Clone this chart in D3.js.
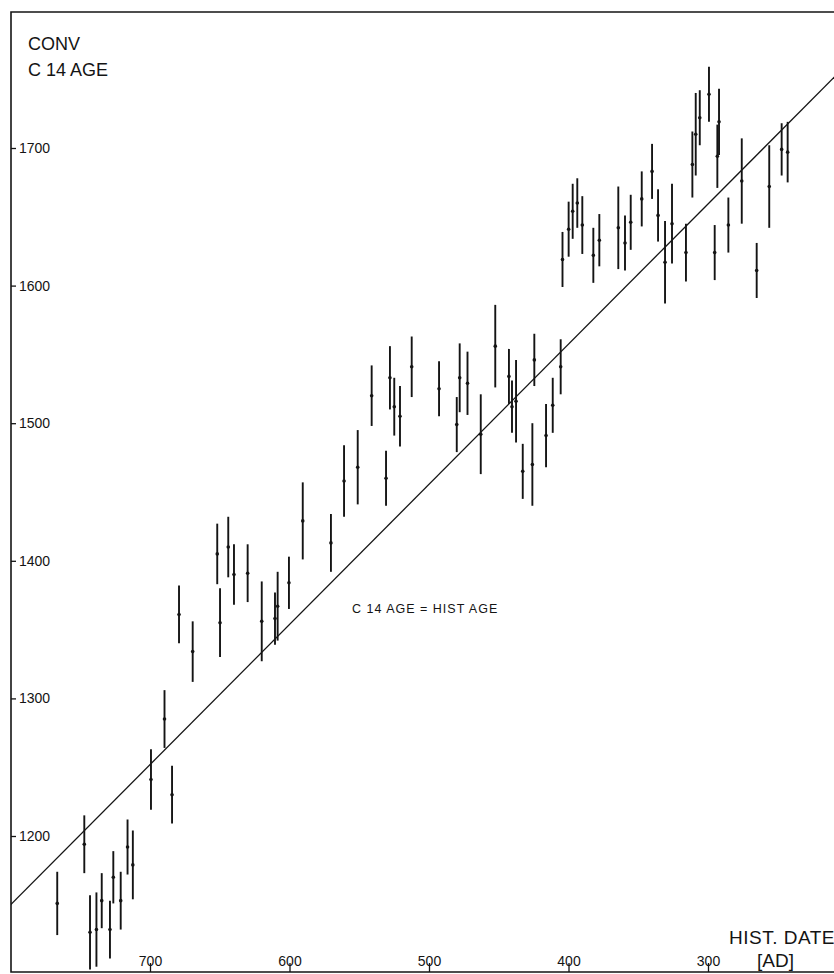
<!DOCTYPE html>
<html>
<head>
<meta charset="utf-8">
<script src="https://cdn.jsdelivr.net/npm/d3@7"></script>
<style>
  html, body { margin: 0; padding: 0; background: #fff; }
  svg { display: block; font-family: "Liberation Sans", Arial, sans-serif; }
</style>
</head>
<body>
<svg id="chart" width="834" height="974"></svg>
<script>
// Historical date (AD) of each sample
const histDate = [766.5, 747.1, 743.0, 738.4, 734.6, 728.7, 726.3, 721.0, 716.1, 712.3,
  699.3, 689.6, 684.2, 679.2, 669.4, 651.8, 649.8, 643.9, 639.8, 630.0,
  619.9, 610.4, 608.5, 600.4, 590.5, 570.3, 560.9, 551.1, 541.1, 530.8,
  528.0, 524.9, 520.8, 512.4, 492.8, 480.1, 478.0, 472.4, 462.9, 452.5,
  442.7, 440.5, 437.6, 432.8, 425.9, 424.5, 416.1, 411.3, 405.6, 404.3,
  399.9, 397.0, 393.7, 390.1, 382.2, 377.9, 364.3, 359.5, 355.4, 347.5,
  340.1, 335.8, 330.8, 325.8, 315.8, 311.2, 308.8, 305.9, 299.3, 295.2,
  293.3, 292.1, 285.4, 275.8, 265.1, 256.1, 247.2, 242.9];
// Conventional C14 age (BP) of each sample
const c14Age = [1151, 1194, 1130, 1132, 1153, 1132, 1170, 1153, 1192, 1179,
  1241, 1285, 1230, 1361, 1334, 1405, 1355, 1410, 1390, 1391,
  1356, 1358, 1367, 1384, 1429, 1413, 1458, 1468, 1520, 1460,
  1533, 1512, 1505, 1541, 1525, 1499, 1533, 1529, 1492, 1556,
  1534, 1512, 1516, 1465, 1470, 1546, 1491, 1513, 1541, 1619,
  1641, 1654, 1660, 1644, 1622, 1633, 1642, 1631, 1646, 1663,
  1683, 1651, 1617, 1645, 1624, 1688, 1710, 1722, 1739, 1624,
  1694, 1719, 1644, 1676, 1611, 1672, 1699, 1697];
// One-sigma error of each C14 age (years)
const c14Err = [23, 21, 27, 27, 20, 21, 19, 21, 20, 25,
  22, 21, 21, 21, 22, 22, 25, 22, 22, 21,
  29, 19, 25, 19, 28, 21, 26, 27, 22, 20,
  23, 21, 22, 22, 20, 20, 25, 23, 29, 30,
  20, 19, 30, 20, 30, 19, 23, 20, 20, 20,
  20, 20, 18, 21, 20, 19, 30, 20, 20, 20,
  20, 19, 30, 29, 21, 24, 30, 20, 20, 20,
  23, 24, 20, 31, 20, 30, 19, 22];
// Reference line "C 14 AGE = HIST AGE" (end points)
const refLineDate = [800, 209];
const refLineAge = [1150, 1752];
// Tick values
const xTicks = [700, 600, 500, 400, 300];
const yTicks = [1200, 1300, 1400, 1500, 1600, 1700];

(function () {
const svg = d3.select("#chart");
const x = d3.scaleLinear().domain([800, 200]).range([10.5, 847.5]);
const y = d3.scaleLinear().domain([1100, 1800]).range([973.6, 10.4]);

const pL = 11, pT = 12, pB = 972, pR = 840;
const ink = "#141414";

svg.append("defs").append("clipPath").attr("id", "plot")
  .append("rect").attr("x", pL).attr("y", pT).attr("width", pR - pL).attr("height", pB - pT);

// Frame
svg.append("path")
  .attr("d", `M${pR},${pT}H${pL}V${pB}H${pR}`)
  .attr("fill", "none").attr("stroke", ink).attr("stroke-width", 1.6);

// Y axis (ticks inside, labels inside)
const yAxis = svg.append("g").attr("transform", `translate(${pL},0)`)
  .call(d3.axisRight(y).tickValues(yTicks).tickSize(5).tickPadding(3).tickFormat(d3.format("d")));
yAxis.select(".domain").remove();
yAxis.selectAll("line").attr("stroke", ink).attr("stroke-width", 1.3);
yAxis.selectAll("text").attr("font-size", 14).attr("fill", ink)
  .attr("font-family", "Liberation Sans, Arial, sans-serif");

// X axis (ticks pointing up, labels above axis)
const xAxis = svg.append("g").attr("transform", `translate(0,${pB})`)
  .call(d3.axisTop(x).tickValues(xTicks).tickSize(9).tickPadding(-3).tickFormat(d3.format("d")));
xAxis.select(".domain").remove();
xAxis.selectAll("line").attr("stroke", ink).attr("stroke-width", 1.3);
xAxis.selectAll("text").attr("font-size", 14).attr("fill", ink)
  .attr("font-family", "Liberation Sans, Arial, sans-serif")
  .attr("y", -6);

// Reference line
const g = svg.append("g").attr("clip-path", "url(#plot)");
g.append("line")
  .attr("x1", x(refLineDate[0])).attr("y1", y(refLineAge[0]))
  .attr("x2", x(refLineDate[1])).attr("y2", y(refLineAge[1]))
  .attr("stroke", ink).attr("stroke-width", 1.3);

// Error bars
const data = histDate.map((d, i) => ({ d, a: c14Age[i], e: c14Err[i] }));
g.selectAll("line.bar").data(data).join("line").attr("class", "bar")
  .attr("x1", p => x(p.d)).attr("x2", p => x(p.d))
  .attr("y1", p => y(p.a + p.e)).attr("y2", p => y(p.a - p.e))
  .attr("stroke", ink).attr("stroke-width", 1.9);
g.selectAll("circle.pt").data(data).join("circle").attr("class", "pt")
  .attr("cx", p => x(p.d)).attr("cy", p => y(p.a)).attr("r", 1.8)
  .attr("fill", ink);

// Labels
svg.append("text").attr("x", 28).attr("y", 50).attr("font-size", 18).attr("fill", ink).text("CONV");
svg.append("text").attr("x", 28).attr("y", 76).attr("font-size", 18).attr("fill", ink).text("C 14 AGE");
svg.append("text").attr("x", 352).attr("y", 613).attr("font-size", 12.5)
  .attr("letter-spacing", 1).attr("fill", ink).text("C 14 AGE = HIST AGE");
svg.append("text").attr("x", 835).attr("y", 944).attr("font-size", 19)
  .attr("text-anchor", "end").attr("letter-spacing", 0.5).attr("fill", ink).text("HIST. DATE");
svg.append("text").attr("x", 757).attr("y", 967).attr("font-size", 19).attr("fill", ink).text("[AD]");
})();
</script>
</body>
</html>
